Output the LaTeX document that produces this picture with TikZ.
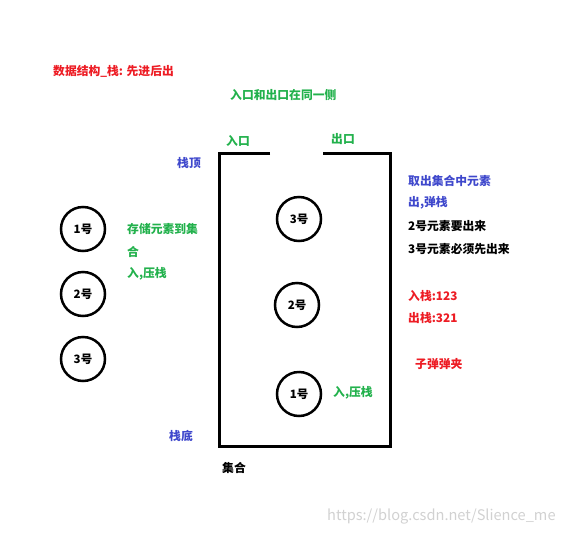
\documentclass[tikz,border=0pt]{standalone}
\usepackage{fontspec}
\setmainfont{Noto Sans CJK SC}
\definecolor{pred}{RGB}{237,28,36}
\definecolor{pgreen}{RGB}{34,177,76}
\definecolor{pblue}{RGB}{63,72,204}
\begin{document}
\begin{tikzpicture}[x=1pt, y=-1pt,
    ball/.style={circle, draw, line width=2.5pt, minimum size=44pt, inner sep=0pt,
      font=\fontsize{11.5}{13}\selectfont\bfseries},
    txt/.style={anchor=west, inner sep=0pt, font=\fontsize{11.8}{14}\selectfont\bfseries}]
    \useasboundingbox (0,0) rectangle (565,536);
    % the stack, open at the top
    \draw[line width=3pt] (270,153) -- (219,153) -- (219,446) -- (390,446) -- (390,153) -- (323,153);
    % elements inside
    \node[ball] (in3) at (299,219){3号};
    \node[ball] (in2) at (297,305){2号};
    \node[ball] (in1) at (299,394){1号};
    % elements outside
    \node[ball] (out1) at (83,229){1号};
    \node[ball] (out2) at (83,294){2号};
    \node[ball] (out3) at (83,359){3号};
    % labels
    \node[txt, pred] (title) at (53,71){数据结构\_栈: 先进后出};
    \node[txt, pgreen] (side) at (230,95){入口和出口在同一侧};
    \node[txt, pgreen] (entry) at (226,141){入口};
    \node[txt, pgreen] (exit) at (331,139){出口};
    \node[txt, pblue] (top) at (177,163){栈顶};
    \node[txt, pblue] (bottom) at (169,436){栈底};
    \node[txt] (set) at (222,468){集合};
    \node[txt, pgreen] (store1) at (127,229){存储元素到集};
    \node[txt, pgreen] (store2) at (127,252){合};
    \node[txt, pgreen] (store3) at (127,274){入,压栈};
    \node[txt, pgreen] (push) at (333,393){入,压栈};
    \node[txt, pblue] (take1) at (408,181){取出集合中元素};
    \node[txt, pblue] (take2) at (408,203){出,弹栈};
    \node[txt] (note1) at (408,226){2号元素要出来};
    \node[txt] (note2) at (408,249){3号元素必须先出来};
    \node[txt, pred] (order1) at (408,296){入栈:123};
    \node[txt, pred] (order2) at (408,318){出栈:321};
    \node[txt, pred] (clip) at (415,364){子弹弹夹};
    \node[anchor=west, inner sep=0pt, black!18, font=\fontsize{14.6}{16}\selectfont] (mark) at (327,517){https://blog.csdn.net/Slience\_me};
\end{tikzpicture}
\end{document}
